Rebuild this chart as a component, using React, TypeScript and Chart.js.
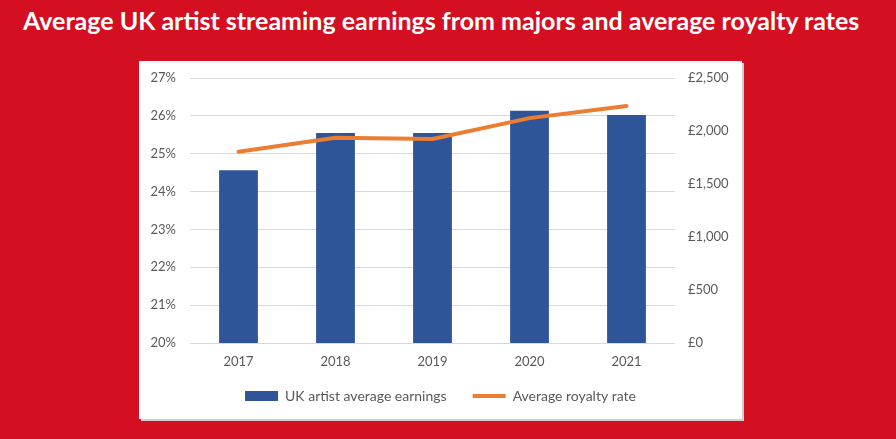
import React, { useEffect, useLayoutEffect, useRef } from "react";
import Chart from "chart.js/auto";

// chart values
const years = ["2017", "2018", "2019", "2020", "2021"];
const earnings = [1630, 1980, 1980, 2190, 2150]; // £, right axis
const royaltyRate = [25.05, 25.42, 25.39, 25.94, 26.26]; // %, left axis
const rateMin = 20;
const rateMax = 27;
const earningsMax = 2500;
const earningsStep = 500;

const TITLE = "Average UK artist streaming earnings from majors and average royalty rates";
const RED = "#D40F22";
const TICK_FONT = { family: "Lato, 'Open Sans', sans-serif", size: 13 };
const LEGEND_FONT = { family: "Lato, 'Open Sans', sans-serif", size: 14 };

const App = () => {
    const canvasRef = useRef<HTMLCanvasElement | null>(null);
    const titleRef = useRef<HTMLSpanElement | null>(null);

    useLayoutEffect(() => {
        const el = titleRef.current;
        if (el) {
            const w = el.offsetWidth;
            if (w > 0) el.style.transform = `scaleX(${836 / w})`;
        }
    }, []);

    useEffect(() => {
        const ctx = canvasRef.current?.getContext("2d");
        if (!ctx) return;

        const chart = new Chart(ctx, {
            type: "bar",
            data: {
                labels: years,
                datasets: [
                    {
                        type: "bar",
                        label: "UK artist average earnings",
                        data: earnings,
                        backgroundColor: "#2E5597",
                        borderWidth: 0,
                        yAxisID: "y2",
                        order: 1,
                        categoryPercentage: 0.8,
                        barPercentage: 0.5,
                    },
                    {
                        type: "line",
                        label: "Average royalty rate",
                        data: royaltyRate,
                        borderColor: "#ED7D31",
                        backgroundColor: "#ED7D31",
                        borderWidth: 4,
                        pointRadius: 0,
                        tension: 0,
                        borderCapStyle: "round",
                        yAxisID: "y",
                        order: 0,
                    },
                ],
            },
            options: {
                animation: false,
                responsive: true,
                maintainAspectRatio: false,
                layout: { padding: { top: 17, bottom: 26, left: 0, right: 0 } },
                plugins: {
                    tooltip: { enabled: false },
                    legend: {
                        position: "bottom",
                        labels: {
                            usePointStyle: true,
                            pointStyleWidth: 33,
                            boxHeight: 10,
                            padding: 19,
                            color: "#595959",
                            font: LEGEND_FONT,
                            sort: (a: any, b: any) => a.datasetIndex - b.datasetIndex,
                            generateLabels: (c: any) => {
                                const items = Chart.defaults.plugins.legend.labels.generateLabels(c);
                                return items.map((it: any) =>
                                    it.datasetIndex === 0
                                        ? {
                                              ...it,
                                              text: it.text + "\u2002",
                                              pointStyle: "rect",
                                              lineWidth: 0,
                                              fillStyle: "#2E5597",
                                          }
                                        : { ...it, pointStyle: "line", lineWidth: 4, strokeStyle: "#ED7D31", lineCap: "butt" }
                                );
                            },
                        },
                    },
                },
                scales: {
                    x: {
                        grid: { display: false, drawTicks: false },
                        border: { display: false },
                        ticks: { color: "#595959", font: TICK_FONT, padding: 11 },
                        afterFit: (s: any) => {
                            s.height = 27;
                        },
                    },
                    y: {
                        position: "left",
                        min: rateMin,
                        max: rateMax,
                        grid: { color: "#D9D9D9", drawTicks: false },
                        border: { display: false },
                        ticks: {
                            stepSize: 1,
                            padding: 14,
                            color: "#595959",
                            font: TICK_FONT,
                            callback: (v: any) => `${v}%`,
                        },
                        afterFit: (s: any) => {
                            s.width = 51;
                            s.paddingTop = 0;
                            s.paddingBottom = 0;
                        },
                    },
                    y2: {
                        position: "right",
                        min: 0,
                        max: earningsMax,
                        grid: { display: false, drawTicks: false },
                        border: { display: false },
                        ticks: {
                            stepSize: earningsStep,
                            padding: 13,
                            color: "#595959",
                            font: TICK_FONT,
                            callback: (v: any) => `£${Number(v).toLocaleString("en-GB")}`,
                        },
                        afterFit: (s: any) => {
                            s.width = 67;
                            s.paddingTop = 0;
                            s.paddingBottom = 0;
                        },
                    },
                },
            },
        });

        return () => {
            chart.destroy();
        };
    }, []);

    return (
        <div
            style={{
                position: "fixed",
                left: 0,
                top: 0,
                width: 896,
                height: 439,
                overflow: "hidden",
                background: RED,
            }}
        >
            <div
                style={{
                    position: "absolute",
                    left: 23,
                    top: 7,
                    whiteSpace: "nowrap",
                    color: "#fff",
                    fontFamily: "Lato, 'Open Sans', sans-serif",
                    fontWeight: 700,
                    fontSize: 24,
                    lineHeight: "27px",
                }}
            >
                <span ref={titleRef} style={{ display: "inline-block", transformOrigin: "left center" }}>
                    {TITLE}
                </span>
            </div>
            <div
                style={{
                    position: "absolute",
                    left: 139,
                    top: 61,
                    width: 603,
                    height: 358,
                    background: "#fff",
                    boxShadow: "2px 2px 0 #CFCFCF",
                }}
            />
            <div style={{ position: "absolute", left: 139, top: 61, width: 603, height: 378 }}>
                <canvas ref={canvasRef} />
            </div>
        </div>
    );
};

export default App;
